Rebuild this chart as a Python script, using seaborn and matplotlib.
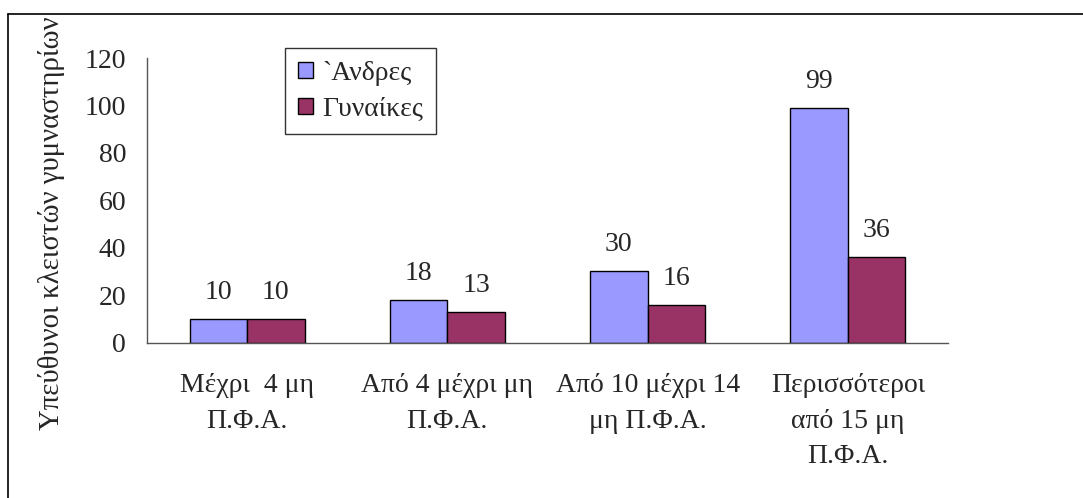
import matplotlib
matplotlib.use("Agg")
import matplotlib.pyplot as plt
from matplotlib.patches import Patch
from matplotlib.lines import Line2D
import seaborn as sns
import pandas as pd

categories = ["Μέχρι  4 μη\nΠ.Φ.Α.", "Από 4 μέχρι μη\nΠ.Φ.Α.", "Από 10 μέχρι 14\nμη Π.Φ.Α.",
              "Περισσότεροι\nαπό 15 μη\nΠ.Φ.Α."]
series_names = ["`Ανδρες", "Γυναίκες"]
men = [10, 18, 30, 99]
women = [10, 13, 16, 36]
y_ticks = [0, 20, 40, 60, 80, 100, 120]
y_label = "Υπεύθυνοι κλειστών γυμναστηρίων"
colors = ["#9999FF", "#993366"]

df = pd.DataFrame({
    "cat": categories * 2,
    "sex": [series_names[0]] * 4 + [series_names[1]] * 4,
    "val": men + women,
})

sns.set_style("white")
plt.rcParams["font.family"] = ["Liberation Serif", "DejaVu Serif"]
FS = 20

W, H = 1083, 498
fig = plt.figure(figsize=(W / 100, H / 100), dpi=100)
ax = fig.add_axes([147 / W, 1 - 342.5 / H, (948 - 147) / W, (342.5 - 58) / H])

sns.barplot(data=df, x="cat", y="val", hue="sex", hue_order=series_names,
            palette=dict(zip(series_names, colors)), width=0.575,
            edgecolor="black", linewidth=1.0, saturation=1, legend=False, ax=ax)

for c in ax.containers:
    ax.bar_label(c, fmt="%d", padding=10, fontsize=FS)

ax.set_xlim(-0.5, len(categories) - 0.5)
ax.set_ylim(0, 120)
ax.set_yticks(y_ticks)
ax.set_yticklabels([str(t) for t in y_ticks], fontsize=FS)
ax.set_xticks([i - 0.5 for i in range(len(categories) + 1)])
ax.set_xticklabels([])
ax.set_xticks(range(len(categories)), minor=True)
ax.set_xticklabels(categories, minor=True, fontsize=FS, ha="center", linespacing=1.55)
ax.tick_params(axis="x", which="major", length=7, width=1, color="#555555", direction="out")
ax.tick_params(axis="x", which="minor", length=0, pad=22)
ax.tick_params(axis="y", length=6, width=1, color="#555555", direction="out", pad=9)
ax.set_xlabel("")
ax.set_ylabel("")
for s in ["top", "right"]:
    ax.spines[s].set_visible(False)
for s in ["left", "bottom"]:
    ax.spines[s].set_color("#555555")
    ax.spines[s].set_linewidth(1)

fig.text(52 / W, 1 - 223 / H, y_label, rotation=90, ha="center", va="center", fontsize=20.7)

handles = [Patch(facecolor=colors[i], edgecolor="black", linewidth=1.0, label=series_names[i])
           for i in range(2)]
leg = fig.legend(handles=handles, loc="upper left", bbox_to_anchor=(285 / W, 1 - 48 / H),
                 bbox_transform=fig.transFigure, fontsize=FS, frameon=True, fancybox=False,
                 borderaxespad=0, handlelength=0.55, handleheight=0.5, handletextpad=0.35,
                 borderpad=0.45, labelspacing=0.4)
leg.get_frame().set_edgecolor("black")
leg.get_frame().set_linewidth(1.0)

fig.add_artist(Line2D([8 / W, 1], [1 - 14.5 / H, 1 - 14.5 / H], transform=fig.transFigure,
                      color="black", linewidth=1.2))
fig.add_artist(Line2D([8 / W, 8 / W], [0, 1 - 14.5 / H], transform=fig.transFigure,
                      color="black", linewidth=1.2))

fig.savefig("out.png", dpi=100)
